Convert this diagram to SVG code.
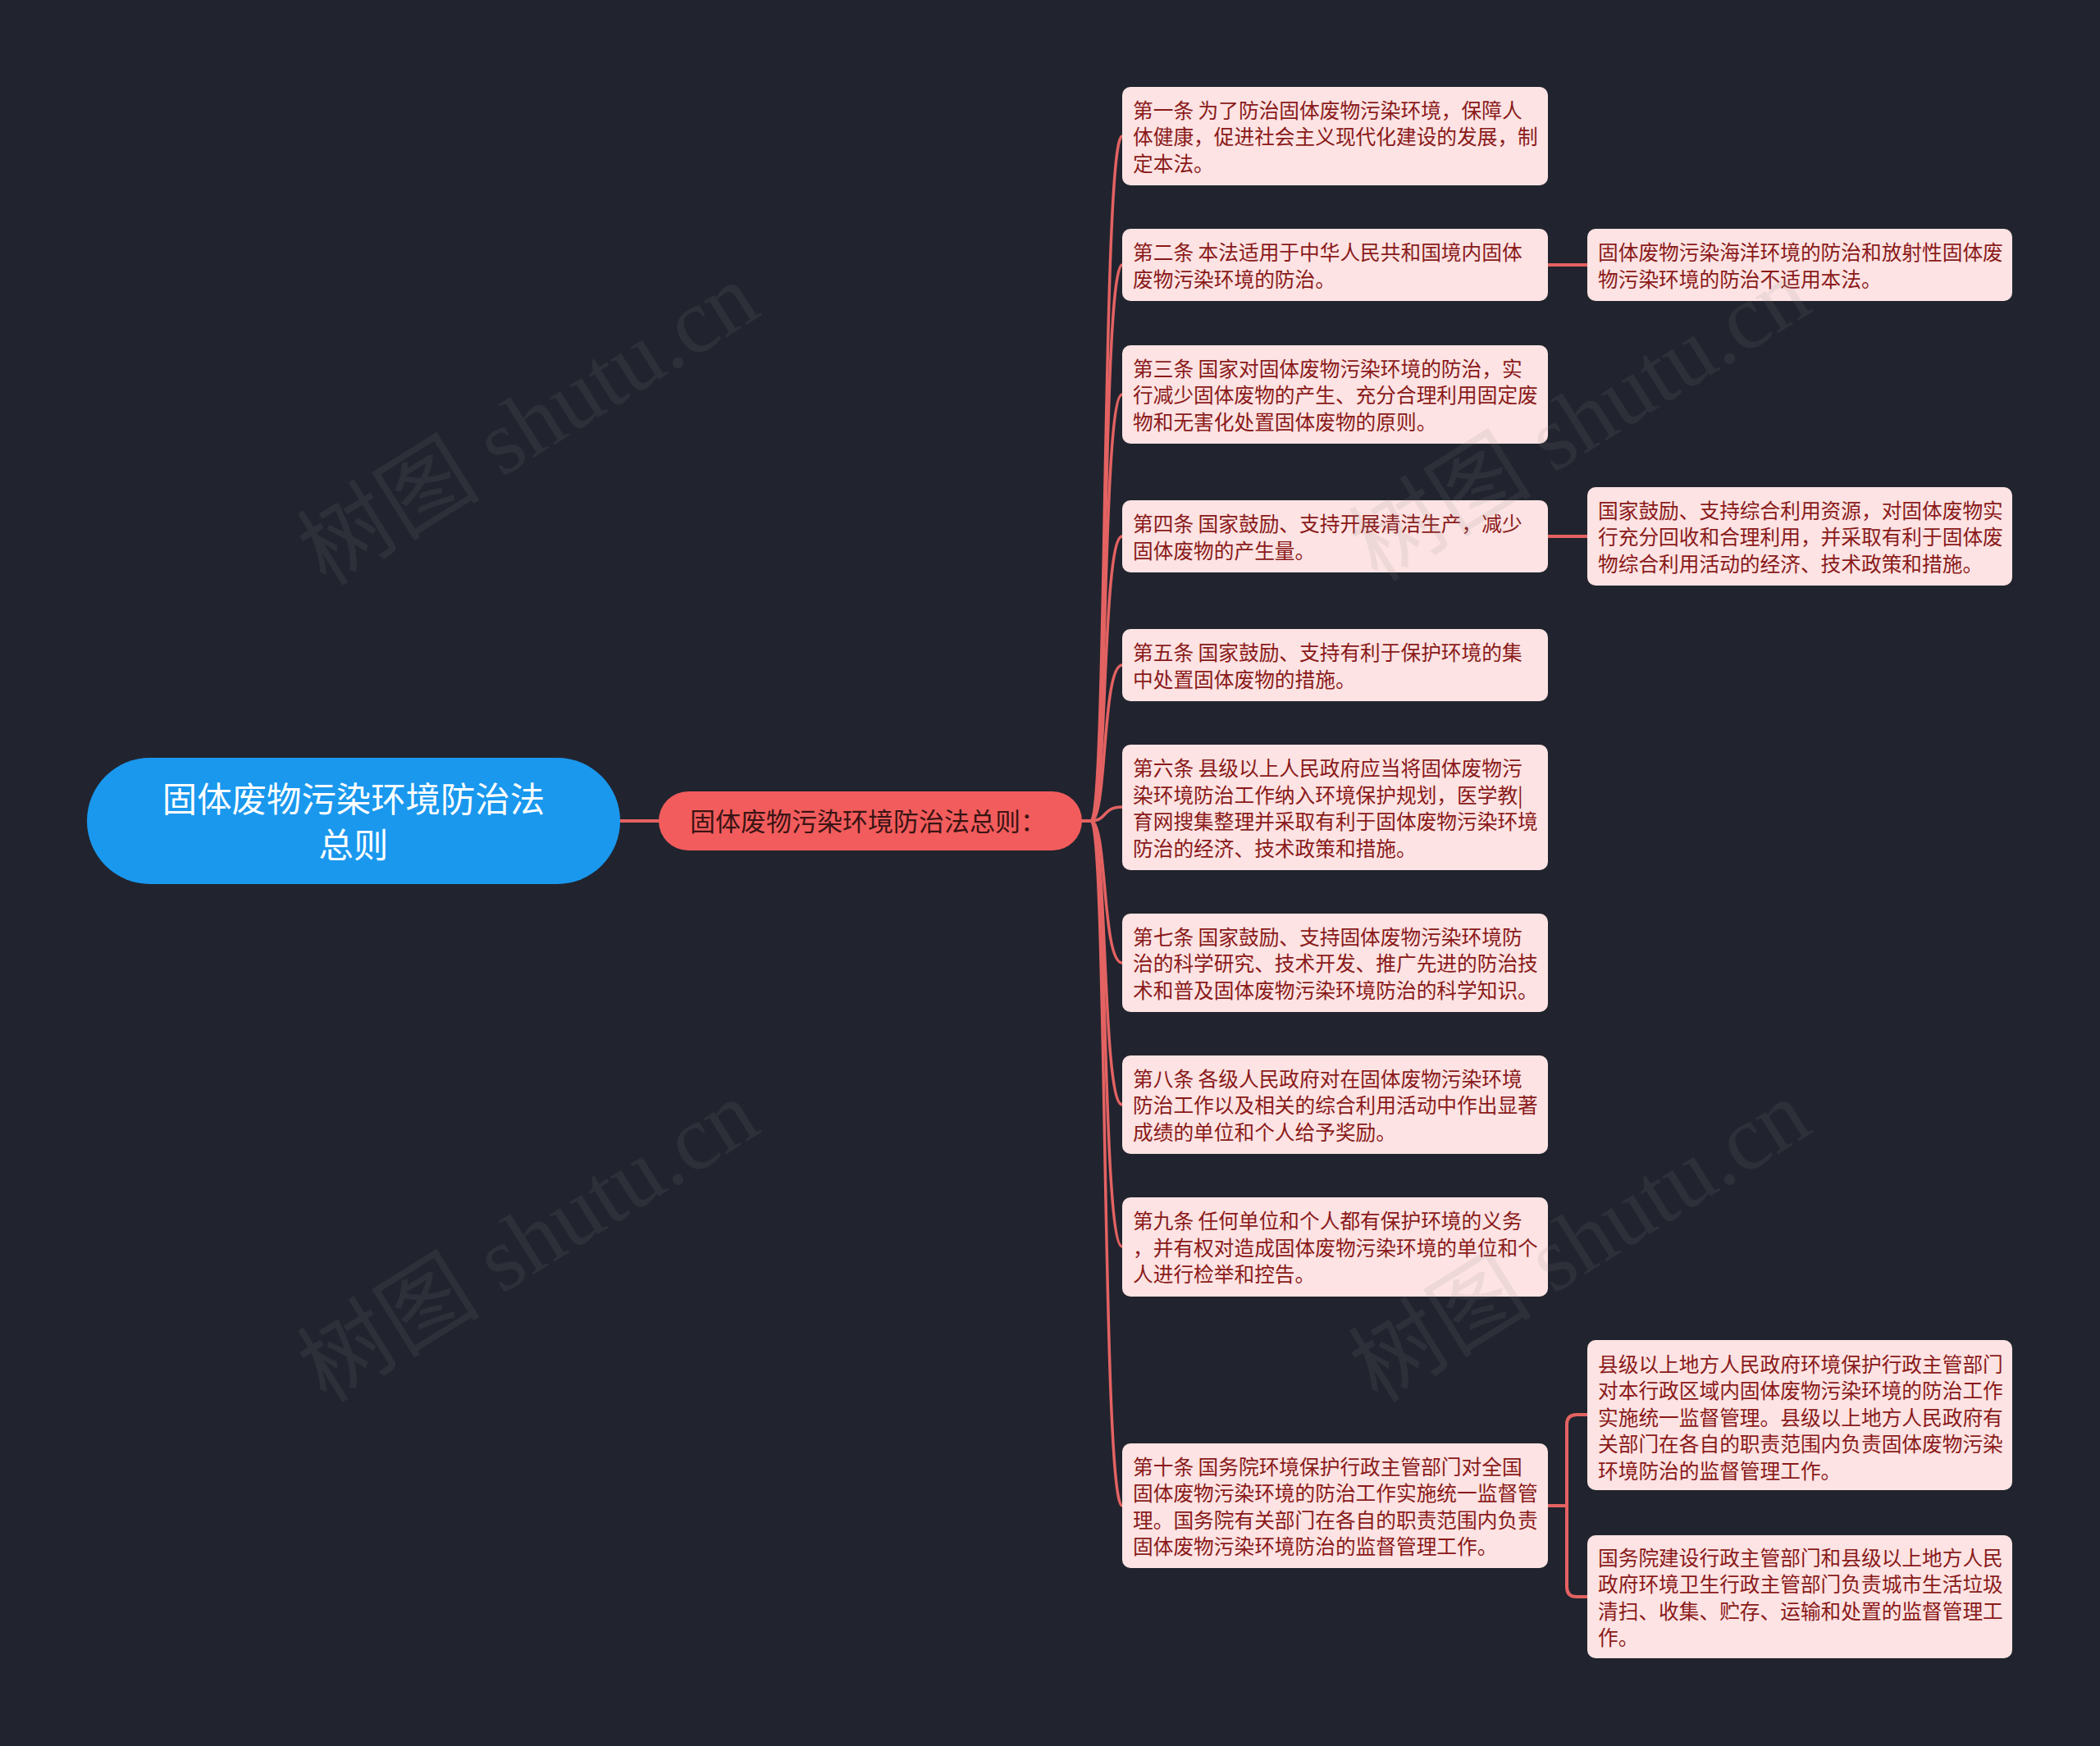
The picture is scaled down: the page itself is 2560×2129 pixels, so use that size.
<svg xmlns="http://www.w3.org/2000/svg" width="2560" height="2129" viewBox="0 0 2560 2129">
<style>
.bg{fill:#21242e}
.conn{fill:none;stroke:#e46262;stroke-width:3.5;stroke-linecap:round}
.leaf{fill:#fde3e3}
.lt{font-family:"Noto Sans CJK SC","Noto Sans",sans-serif;font-size:24.7px;fill:#8a1a1a}
.root{fill:#1a98ee}
.rt{font-family:"Noto Sans CJK SC","Noto Sans",sans-serif;font-size:42.4px;fill:#ffffff}
.br{fill:#f35c5c}
.bt{font-family:"Noto Sans CJK SC","Noto Sans",sans-serif;font-size:31px;fill:#3a1414}
.wm{font-family:"Liberation Serif","Noto Sans CJK SC",serif;font-size:112px;fill:#8a8a8a;opacity:0.12}
</style>
<rect class="bg" x="0" y="0" width="2560" height="2129"/>

<g id="connectors">
<path class="conn" d="M756,1001 H803" style="stroke-width:4"/>
<path class="conn" d="M1319,1001 H1330 C1350,1001 1343,166 1368,166"/>
<path class="conn" d="M1319,1001 H1330 C1350,1001 1343,323 1368,323"/>
<path class="conn" d="M1319,1001 H1330 C1350,1001 1343,481 1368,481"/>
<path class="conn" d="M1319,1001 H1330 C1350,1001 1343,654 1368,654"/>
<path class="conn" d="M1319,1001 H1330 C1350,1001 1343,811 1368,811"/>
<path class="conn" d="M1319,1001 H1330 C1350,1001 1343,984 1368,984"/>
<path class="conn" d="M1319,1001 H1330 C1350,1001 1343,1174 1368,1174"/>
<path class="conn" d="M1319,1001 H1330 C1350,1001 1343,1347 1368,1347"/>
<path class="conn" d="M1319,1001 H1330 C1350,1001 1343,1520 1368,1520"/>
<path class="conn" d="M1319,1001 H1330 C1350,1001 1343,1836 1368,1836"/>
<path class="conn" d="M1887,323 H1935" style="stroke-width:4"/>
<path class="conn" d="M1887,654 H1935" style="stroke-width:4"/>
<path class="conn" d="M1887,1836 H1910 V1737 Q1910,1725 1922,1725 H1935" style="stroke-width:4"/>
<path class="conn" d="M1910,1836 V1935 Q1910,1947 1922,1947 H1935" style="stroke-width:4"/>
</g>

<g id="root">
<rect class="root" x="106" y="924" width="650" height="154" rx="77"/>
<text class="rt" x="431" y="990" text-anchor="middle">固体废物污染环境防治法</text>
<text class="rt" x="431" y="1046" text-anchor="middle">总则</text>
</g>

<g id="branch">
<rect class="br" x="803" y="965" width="516" height="72" rx="36"/>
<text class="bt" x="841" y="1013">固体废物污染环境防治法总则：</text>
</g>

<g id="leaf1">
<rect class="leaf" x="1368" y="106" width="519" height="120" rx="10"/>
<text class="lt" x="1381" y="144">第一条 为了防治固体废物污染环境，保障人</text>
<text class="lt" x="1381" y="176">体健康，促进社会主义现代化建设的发展，制</text>
<text class="lt" x="1381" y="209">定本法。</text>
</g>

<g id="leaf2">
<rect class="leaf" x="1368" y="279" width="519" height="88" rx="10"/>
<text class="lt" x="1381" y="317">第二条 本法适用于中华人民共和国境内固体</text>
<text class="lt" x="1381" y="350">废物污染环境的防治。</text>
</g>

<g id="leaf2a">
<rect class="leaf" x="1935" y="279" width="518" height="88" rx="10"/>
<text class="lt" x="1948" y="317">固体废物污染海洋环境的防治和放射性固体废</text>
<text class="lt" x="1948" y="350">物污染环境的防治不适用本法。</text>
</g>

<g id="leaf3">
<rect class="leaf" x="1368" y="421" width="519" height="120" rx="10"/>
<text class="lt" x="1381" y="459">第三条 国家对固体废物污染环境的防治，实</text>
<text class="lt" x="1381" y="491">行减少固体废物的产生、充分合理利用固定废</text>
<text class="lt" x="1381" y="524">物和无害化处置固体废物的原则。</text>
</g>

<g id="leaf4">
<rect class="leaf" x="1368" y="610" width="519" height="88" rx="10"/>
<text class="lt" x="1381" y="648">第四条 国家鼓励、支持开展清洁生产，减少</text>
<text class="lt" x="1381" y="681">固体废物的产生量。</text>
</g>

<g id="leaf4a">
<rect class="leaf" x="1935" y="594" width="518" height="120" rx="10"/>
<text class="lt" x="1948" y="632">国家鼓励、支持综合利用资源，对固体废物实</text>
<text class="lt" x="1948" y="664">行充分回收和合理利用，并采取有利于固体废</text>
<text class="lt" x="1948" y="697">物综合利用活动的经济、技术政策和措施。</text>
</g>

<g id="leaf5">
<rect class="leaf" x="1368" y="767" width="519" height="88" rx="10"/>
<text class="lt" x="1381" y="805">第五条 国家鼓励、支持有利于保护环境的集</text>
<text class="lt" x="1381" y="838">中处置固体废物的措施。</text>
</g>

<g id="leaf6">
<rect class="leaf" x="1368" y="908" width="519" height="153" rx="10"/>
<text class="lt" x="1381" y="946">第六条 县级以上人民政府应当将固体废物污</text>
<text class="lt" x="1381" y="979">染环境防治工作纳入环境保护规划，医学教|</text>
<text class="lt" x="1381" y="1011">育网搜集整理并采取有利于固体废物污染环境</text>
<text class="lt" x="1381" y="1044">防治的经济、技术政策和措施。</text>
</g>

<g id="leaf7">
<rect class="leaf" x="1368" y="1114" width="519" height="120" rx="10"/>
<text class="lt" x="1381" y="1152">第七条 国家鼓励、支持固体废物污染环境防</text>
<text class="lt" x="1381" y="1184">治的科学研究、技术开发、推广先进的防治技</text>
<text class="lt" x="1381" y="1217">术和普及固体废物污染环境防治的科学知识。</text>
</g>

<g id="leaf8">
<rect class="leaf" x="1368" y="1287" width="519" height="120" rx="10"/>
<text class="lt" x="1381" y="1325">第八条 各级人民政府对在固体废物污染环境</text>
<text class="lt" x="1381" y="1357">防治工作以及相关的综合利用活动中作出显著</text>
<text class="lt" x="1381" y="1390">成绩的单位和个人给予奖励。</text>
</g>

<g id="leaf9">
<rect class="leaf" x="1368" y="1460" width="519" height="121" rx="10"/>
<text class="lt" x="1381" y="1498">第九条 任何单位和个人都有保护环境的义务</text>
<text class="lt" x="1381" y="1531">，并有权对造成固体废物污染环境的单位和个</text>
<text class="lt" x="1381" y="1563">人进行检举和控告。</text>
</g>

<g id="leaf10">
<rect class="leaf" x="1368" y="1760" width="519" height="152" rx="10"/>
<text class="lt" x="1381" y="1798">第十条 国务院环境保护行政主管部门对全国</text>
<text class="lt" x="1381" y="1830">固体废物污染环境的防治工作实施统一监督管</text>
<text class="lt" x="1381" y="1863">理。国务院有关部门在各自的职责范围内负责</text>
<text class="lt" x="1381" y="1895">固体废物污染环境防治的监督管理工作。</text>
</g>

<g id="leaf10a">
<rect class="leaf" x="1935" y="1634" width="518" height="183" rx="10"/>
<text class="lt" x="1948" y="1673">县级以上地方人民政府环境保护行政主管部门</text>
<text class="lt" x="1948" y="1705">对本行政区域内固体废物污染环境的防治工作</text>
<text class="lt" x="1948" y="1738">实施统一监督管理。县级以上地方人民政府有</text>
<text class="lt" x="1948" y="1770">关部门在各自的职责范围内负责固体废物污染</text>
<text class="lt" x="1948" y="1803">环境防治的监督管理工作。</text>
</g>

<g id="leaf10b">
<rect class="leaf" x="1935" y="1872" width="518" height="150" rx="10"/>
<text class="lt" x="1948" y="1909">国务院建设行政主管部门和县级以上地方人民</text>
<text class="lt" x="1948" y="1941">政府环境卫生行政主管部门负责城市生活垃圾</text>
<text class="lt" x="1948" y="1974">清扫、收集、贮存、运输和处置的监督管理工</text>
<text class="lt" x="1948" y="2006">作。</text>
</g>

<g id="watermarks">
<text class="wm" x="645" y="555" text-anchor="middle" transform="rotate(-32 645 519)">树图 shutu.cn</text>
<text class="wm" x="1927" y="550" text-anchor="middle" transform="rotate(-32 1927 514)">树图 shutu.cn</text>
<text class="wm" x="645" y="1551" text-anchor="middle" transform="rotate(-32 645 1515)">树图 shutu.cn</text>
<text class="wm" x="1927" y="1551" text-anchor="middle" transform="rotate(-32 1927 1515)">树图 shutu.cn</text>
</g>
</svg>
